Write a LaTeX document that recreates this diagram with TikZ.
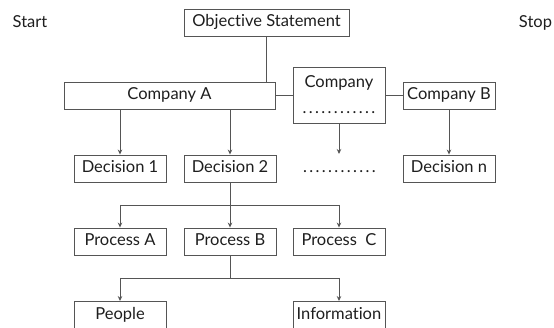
\documentclass[tikz,border=0pt]{standalone}
\usepackage{fontspec}
\setmainfont{Lato}[Ligatures={NoCommon,NoRare}]
\usetikzlibrary{arrows.meta}
\definecolor{linegray}{HTML}{555555}
\definecolor{ink}{HTML}{1E1E1E}
% evenly spaced row of dots used as a placeholder label
\newcommand{\dotrow}{\hbox to 75pt{\xleaders\hbox to 6.25pt{\hss.\hss}\hfill}}
\tikzset{
  box/.style={draw=linegray, line width=0.9pt, minimum height=27pt, inner sep=0pt,
              text=ink, text height=12pt, text depth=3pt},
  smallbox/.style={box, minimum width=92pt},
  plain/.style={text=ink, inner sep=0pt, text height=12pt, text depth=3pt},
  link/.style={draw=linegray, line width=0.9pt},
  arrowlink/.style={link, -{Stealth[length=5pt,width=4.5pt]}}
}
\begin{document}
\begin{tikzpicture}[x=1pt, y=-1pt, font=\fontsize{16.5}{19}\selectfont]
\useasboundingbox (0,0) rectangle (554,328);

% corner labels
\node[plain] (start) at (30,23) {Start};
\node[plain] (stop) at (535.5,23) {Stop};

% top level
\node[box, minimum width=165pt] (obj) at (266.5,22.5) {Objective Statement};
\node[box, minimum width=211pt] (ca) at (169.5,95.5) {Company A};
\node[draw=linegray, line width=0.9pt, minimum width=92pt, minimum height=56pt,
      inner sep=0pt, text=ink, align=center] (co) at (339,95)
      {Company\\[7pt]\dotrow};
\node[smallbox] (cb) at (449,95.5) {Company B};

% decisions
\node[smallbox] (d1) at (120,168.5) {Decision 1};
\node[smallbox] (d2) at (230,168.5) {Decision 2};
\node[plain] (dd) at (339.5,168.5) {\dotrow};
\node[smallbox] (dn) at (449,168.5) {Decision n};
\coordinate (ddtop) at (339,154);

% processes
\node[smallbox] (pa) at (120,241.5) {Process A};
\node[smallbox] (pb) at (230,241.5) {Process B};
\node[smallbox] (pc) at (339,241.5) {Process\ \ C};

% resources
\node[smallbox] (pe) at (120,315) {People};
\node[smallbox] (in) at (339,315) {Information};

% junctions of the branching connectors
\coordinate (j1) at (230,205);
\coordinate (j2) at (230,278);

% connectors
\draw[link] (obj.south) -- (obj.south |- ca.north);
\draw[link] (ca.east) -- (ca.east -| co.west);
\draw[link] (co.east |- cb.west) -- (cb.west);

\draw[arrowlink] (d1.north |- ca.south) -- (d1.north);
\draw[arrowlink] (d2.north |- ca.south) -- (d2.north);
\draw[arrowlink] (co.south) -- (ddtop);
\draw[arrowlink] (cb.south) -- (dn.north);

\draw[link] (d2.south) -- (j1);
\draw[link] (j1 -| pa.north) -- (j1 -| pc.north);
\draw[arrowlink] (j1 -| pa.north) -- (pa.north);
\draw[arrowlink] (j1) -- (pb.north);
\draw[arrowlink] (j1 -| pc.north) -- (pc.north);

\draw[link] (pb.south) -- (j2);
\draw[link] (j2 -| pe.north) -- (j2 -| in.north);
\draw[arrowlink] (j2 -| pe.north) -- (pe.north);
\draw[arrowlink] (j2 -| in.north) -- (in.north);
\end{tikzpicture}
\end{document}
